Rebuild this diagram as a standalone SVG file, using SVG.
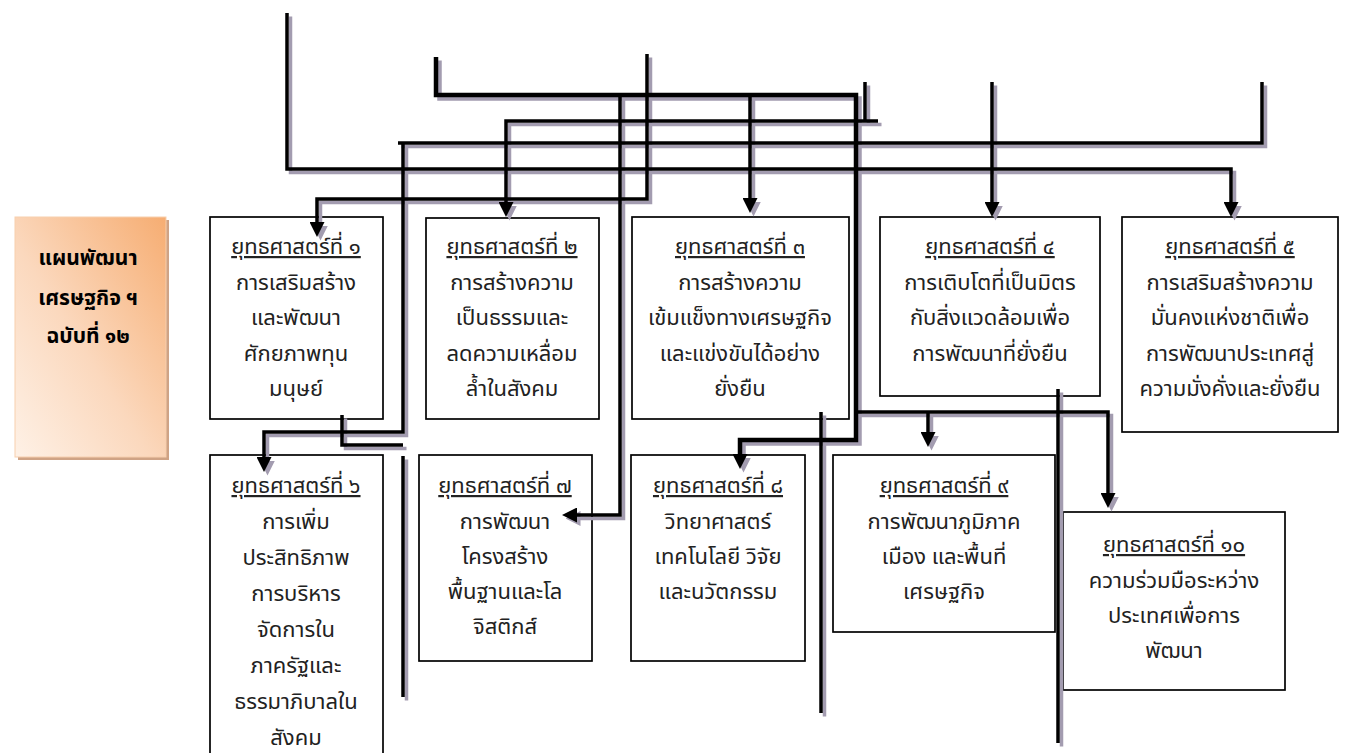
<svg xmlns="http://www.w3.org/2000/svg" width="1345" height="753" viewBox="0 0 1345 753">
<style>
.ln{fill:none;stroke:#000;stroke-width:3.5}
.thk{stroke-width:4.5}
.sh{fill:none;stroke:#a39cb0;stroke-width:3.5}
.box{fill:#fff;stroke:#000;stroke-width:1.7}
.t{font-family:"Noto Sans Thai","Noto Sans","DejaVu Sans",sans-serif;font-size:22px;fill:#222;text-anchor:middle}
.u{text-decoration:underline}
.b{font-weight:bold;font-size:21px;fill:#000}
</style>
<defs>
<marker id="ah" markerUnits="userSpaceOnUse" viewBox="0 0 15 15" markerWidth="15" markerHeight="15" refX="5" refY="7.5" orient="auto"><path d="M0,0 L15,7.5 L0,15 z" fill="#000"/></marker>
<marker id="ahg" markerUnits="userSpaceOnUse" viewBox="0 0 15 15" markerWidth="15" markerHeight="15" refX="5" refY="7.5" orient="auto"><path d="M0,0 L15,7.5 L0,15 z" fill="#a39cb0"/></marker>
<linearGradient id="og" x1="1" y1="0" x2="0" y2="1">
<stop offset="0" stop-color="#f6ad72"/>
<stop offset="0.55" stop-color="#fbd8bd"/>
<stop offset="1" stop-color="#fef1e6"/>
</linearGradient>
</defs>
<rect width="1345" height="753" fill="#fff"/>

<g id="plan">
<rect x="18" y="220" width="151" height="240" fill="#cfa385"/>
<rect x="15" y="217" width="151" height="240" fill="url(#og)" stroke="#f7cfae" stroke-width="1"/>
<text class="t b" x="88" y="265">แผนพัฒนา</text>
<text class="t b" x="88" y="305">เศรษฐกิจ ฯ</text>
<text class="t b" x="88" y="343">ฉบับที่ ๑๒</text>
</g>

<g id="s1">
<rect class="box" x="210" y="217" width="173" height="202"/>
<text class="t u" x="296" y="254">ยุทธศาสตร์ที่ ๑</text>
<text class="t" x="296" y="290">การเสริมสร้าง</text>
<text class="t" x="296" y="325">และพัฒนา</text>
<text class="t" x="296" y="361">ศักยภาพทุน</text>
<text class="t" x="296" y="396">มนุษย์</text>
</g>
<g id="s2">
<rect class="box" x="426" y="218" width="173" height="201"/>
<text class="t u" x="512" y="254">ยุทธศาสตร์ที่ ๒</text>
<text class="t" x="512" y="290">การสร้างความ</text>
<text class="t" x="512" y="325">เป็นธรรมและ</text>
<text class="t" x="512" y="361">ลดความเหลื่อม</text>
<text class="t" x="512" y="396">ล้ำในสังคม</text>
</g>
<g id="s3">
<rect class="box" x="632" y="217" width="217" height="202"/>
<text class="t u" x="740" y="254">ยุทธศาสตร์ที่ ๓</text>
<text class="t" x="740" y="290">การสร้างความ</text>
<text class="t" x="740" y="325">เข้มแข็งทางเศรษฐกิจ</text>
<text class="t" x="740" y="361">และแข่งขันได้อย่าง</text>
<text class="t" x="740" y="396">ยั่งยืน</text>
</g>
<g id="s4">
<rect class="box" x="880" y="217" width="220" height="179"/>
<text class="t u" x="990" y="254">ยุทธศาสตร์ที่ ๔</text>
<text class="t" x="990" y="290">การเติบโตที่เป็นมิตร</text>
<text class="t" x="990" y="325">กับสิ่งแวดล้อมเพื่อ</text>
<text class="t" x="990" y="361">การพัฒนาที่ยั่งยืน</text>
</g>
<g id="s5">
<rect class="box" x="1122" y="217" width="216" height="215"/>
<text class="t u" x="1230" y="254">ยุทธศาสตร์ที่ ๕</text>
<text class="t" x="1230" y="290">การเสริมสร้างความ</text>
<text class="t" x="1230" y="325">มั่นคงแห่งชาติเพื่อ</text>
<text class="t" x="1230" y="361">การพัฒนาประเทศสู่</text>
<text class="t" x="1230" y="396">ความมั่งคั่งและยั่งยืน</text>
</g>
<g id="s6">
<rect class="box" x="210" y="455" width="173" height="310"/>
<text class="t u" x="296" y="493">ยุทธศาสตร์ที่ ๖</text>
<text class="t" x="296" y="529">การเพิ่ม</text>
<text class="t" x="296" y="565">ประสิทธิภาพ</text>
<text class="t" x="296" y="601">การบริหาร</text>
<text class="t" x="296" y="637">จัดการใน</text>
<text class="t" x="296" y="673">ภาครัฐและ</text>
<text class="t" x="296" y="709">ธรรมาภิบาลใน</text>
<text class="t" x="296" y="745">สังคม</text>
</g>
<g id="s7">
<rect class="box" x="419" y="455" width="173" height="206"/>
<text class="t u" x="505" y="493">ยุทธศาสตร์ที่ ๗</text>
<text class="t" x="505" y="529">การพัฒนา</text>
<text class="t" x="505" y="564">โครงสร้าง</text>
<text class="t" x="505" y="599">พื้นฐานและโล</text>
<text class="t" x="505" y="634">จิสติกส์</text>
</g>
<g id="s8">
<rect class="box" x="631" y="455" width="174" height="206"/>
<text class="t u" x="718" y="493">ยุทธศาสตร์ที่ ๘</text>
<text class="t" x="718" y="529">วิทยาศาสตร์</text>
<text class="t" x="718" y="564">เทคโนโลยี วิจัย</text>
<text class="t" x="718" y="599">และนวัตกรรม</text>
</g>
<g id="s9">
<rect class="box" x="833" y="455" width="222" height="177"/>
<text class="t u" x="944" y="493">ยุทธศาสตร์ที่ ๙</text>
<text class="t" x="944" y="529">การพัฒนาภูมิภาค</text>
<text class="t" x="944" y="564">เมือง และพื้นที่</text>
<text class="t" x="944" y="599">เศรษฐกิจ</text>
</g>
<g id="s10">
<rect class="box" x="1063" y="512" width="222" height="178"/>
<text class="t u" x="1174" y="552">ยุทธศาสตร์ที่ ๑๐</text>
<text class="t" x="1174" y="588">ความร่วมมือระหว่าง</text>
<text class="t" x="1174" y="623">ประเทศเพื่อการ</text>
<text class="t" x="1174" y="658">พัฒนา</text>
</g>

<g id="connectors">
<g transform="translate(3.5,3.5)">
<path class="sh" d="M287,13 V169 H1231 V207" marker-end="url(#ahg)"/>
<path class="sh" d="M436,57 V95 H856 V440 H740 V459" marker-end="url(#ahg)" style="stroke-width:4.5"/>
<path class="sh" d="M620,95 V515 H572" marker-end="url(#ahg)"/>
<path class="sh" d="M878,121 H506 V207" marker-end="url(#ahg)"/>
<path class="sh" d="M865,82 V121"/>
<path class="sh" d="M750,95 V203" marker-end="url(#ahg)"/>
<path class="sh" d="M992,82 V207" marker-end="url(#ahg)"/>
<path class="sh" d="M398,143 H1262 V82"/>
<path class="sh" d="M403,143 V432 H264 V462" marker-end="url(#ahg)"/>
<path class="sh" d="M647,54 V199 H317 V227" marker-end="url(#ahg)"/>
<path class="sh" d="M342,415 V445 H403"/>
<path class="sh" d="M403,456 V697"/>
<path class="sh" d="M857,412 H1108 V498" marker-end="url(#ahg)"/>
<path class="sh" d="M928,412 V437" marker-end="url(#ahg)"/>
<path class="sh" d="M821,412 V713"/>
<path class="sh" d="M1058,389 V743"/>
</g>
<path class="ln" d="M287,13 V169 H1231 V207" marker-end="url(#ah)"/>
<path class="ln thk" d="M436,57 V95 H856 V440 H740 V459" marker-end="url(#ah)"/>
<path class="ln" d="M620,95 V515 H572" marker-end="url(#ah)"/>
<path class="ln" d="M878,121 H506 V207" marker-end="url(#ah)"/>
<path class="ln" d="M865,82 V121"/>
<path class="ln" d="M750,95 V203" marker-end="url(#ah)"/>
<path class="ln" d="M992,82 V207" marker-end="url(#ah)"/>
<path class="ln" d="M398,143 H1262 V82"/>
<path class="ln" d="M403,143 V432 H264 V462" marker-end="url(#ah)"/>
<path class="ln" d="M647,54 V199 H317 V227" marker-end="url(#ah)"/>
<path class="ln" d="M342,415 V445 H403"/>
<path class="ln" d="M403,456 V697"/>
<path class="ln" d="M857,412 H1108 V498" marker-end="url(#ah)"/>
<path class="ln" d="M928,412 V437" marker-end="url(#ah)"/>
<path class="ln" d="M821,412 V713"/>
<path class="ln" d="M1058,389 V743"/>
</g>
</svg>
